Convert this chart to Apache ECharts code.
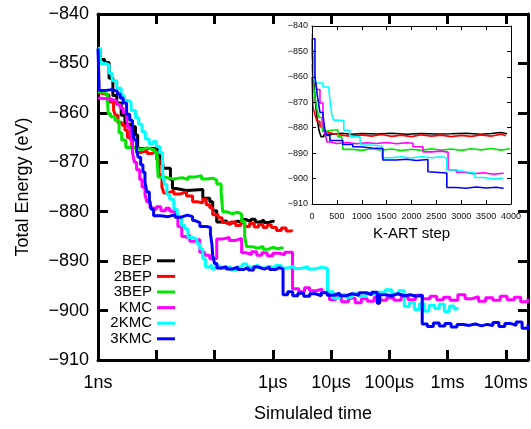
<!DOCTYPE html>
<html>
<head>
<meta charset="utf-8">
<script src="https://cdn.jsdelivr.net/npm/echarts@6/dist/echarts.min.js"></script>
<style>
  html, body { margin: 0; padding: 0; background: #fff; }
  #chart { width: 531px; height: 429px; }
</style>
</head>
<body>
<div id="chart"></div>
<script>
// Series names and colours
const seriesNames = ['BEP', '2BEP', '3BEP', 'KMC', '2KMC', '3KMC'];
const seriesColors = ['#000000', '#ff0000', '#00e600', '#ff00ff', '#00ffff', '#0000ff'];

// Tick labels of the logarithmic time axis (seconds)
const timeTicks = [1e-9, 1e-6, 1e-5, 1e-4, 1e-3, 1e-2];
const timeTickText = ['1ns', '1\u00b5s', '10\u00b5s', '100\u00b5s', '1ms', '10ms'];

// Main plot: total energy (eV) against simulated time (s)
const bepTime = [
  [1e-9,-847.5],[1.1e-9,-849.2],[1.3e-9,-849.8],[1.55e-9,-853],[1.8e-9,-856.5],[2.1e-9,-858],
  [2.5e-9,-860.5],[2.9e-9,-862.3],[3.6e-9,-862.8],[4.4e-9,-864.5],[4.8e-9,-867.2],[1.05e-8,-868.6],
  [1.15e-8,-870.3],[1.3e-8,-871.2],[1.75e-8,-873.5],[1.9e-8,-875.3],[2.2e-8,-875.7],[3.3e-8,-875.5],
  [6.3e-8,-877.3],[8.3e-8,-878],[9.3e-8,-879.8],[1.09e-7,-882.1],[1.3e-7,-881.8],[1.6e-7,-882.3],
  [2.0e-7,-881.9],[2.5e-7,-882.2],[2.9e-7,-881.6],[3.5e-7,-882.0],[4.2e-7,-881.5],[5.0e-7,-882.1],
  [6.0e-7,-881.7],[7.0e-7,-882.2],[8.3e-7,-881.9],[1.0e-6,-882.0],[1.07e-6,-882.0]
];
const bep2Time = [
  [1e-9,-856],[1.12e-9,-856.4],[1.55e-9,-857.8],[1.85e-9,-859.5],[2.0e-9,-860.5],[2.2e-9,-862],
  [2.6e-9,-862.5],[2.9e-9,-863.5],[3.2e-9,-865],[3.8e-9,-867],[4.6e-9,-868],[5.5e-9,-867.7],
  [7e-9,-868.2],[8.5e-9,-867.8],[1.02e-8,-869.5],[1.12e-8,-872.5],[1.25e-8,-875],[1.35e-8,-876.2],
  [1.6e-8,-875.8],[2.0e-8,-876.4],[2.6e-8,-876],[3.3e-8,-876.8],[4.2e-8,-878],[5.0e-8,-878.2],
  [6.3e-8,-877.5],[7.2e-8,-878.6],[8.3e-8,-879.2],[9.3e-8,-880.6],[1.15e-7,-881.2],[1.35e-7,-882.2],
  [1.6e-7,-882.6],[1.9e-7,-882.1],[2.3e-7,-882.8],[2.8e-7,-882.3],[3.3e-7,-883.0],[4.0e-7,-882.4],
  [4.8e-7,-883.1],[5.7e-7,-882.6],[6.8e-7,-883.2],[8.0e-7,-882.7],[9.5e-7,-883.2],[1.16e-6,-883.8],
  [1.4e-6,-883.3],[1.7e-6,-883.9],[2.1e-6,-883.6]
];
const bep3Time = [
  [1e-9,-855.8],[1.2e-9,-856.2],[1.45e-9,-857.5],[1.5e-9,-860.2],[1.65e-9,-860.8],[1.95e-9,-861.5],
  [2.3e-9,-864],[2.55e-9,-865.5],[3.0e-9,-867],[4.0e-9,-867.4],[5.5e-9,-867.1],[7.0e-9,-867.5],
  [9.5e-9,-868],[1.04e-8,-870],[1.08e-8,-873],[1.4e-8,-873.4],[2.0e-8,-873.1],[2.8e-8,-873.5],
  [3.5e-8,-873.0],[4.5e-8,-872.7],[6e-8,-873.4],[7.5e-8,-873.2],[9.3e-8,-873.6],[1.09e-7,-874.4],
  [1.3e-7,-876],[1.38e-7,-880],[1.6e-7,-880.4],[2.0e-7,-880.1],[2.5e-7,-880.5],[2.92e-7,-882],
  [3.29e-7,-885],[3.56e-7,-887.1],[4.5e-7,-887.4],[5.5e-7,-887.0],[6.8e-7,-887.6],[8.3e-7,-887.2],
  [1.0e-6,-887.5],[1.2e-6,-887.3],[1.47e-6,-887.5]
];
const kmcTime = [
  [1e-9,-857],[1.08e-9,-857.2],[1.6e-9,-857.6],[2.1e-9,-858.3],[2.4e-9,-859],[2.7e-9,-860],
  [3.1e-9,-861.5],[3.3e-9,-863],[3.6e-9,-865.5],[3.9e-9,-868],[4.2e-9,-870],[4.6e-9,-871.5],
  [5.2e-9,-873.5],[5.7e-9,-875],[6.4e-9,-876.5],[6.9e-9,-878],[7.8e-9,-879.2],[8.7e-9,-879.6],
  [1.0e-8,-879.0],[1.2e-8,-879.8],[1.45e-8,-879.3],[1.7e-8,-879.9],[2.1e-8,-880.5],[2.35e-8,-883],
  [2.74e-8,-885],[3.1e-8,-885.3],[3.47e-8,-884.8],[3.76e-8,-886],[4.5e-8,-885.6],[5.58e-8,-888.2],
  [6.8e-8,-888.8],[8.3e-8,-889.5],[1.09e-7,-885.5],[1.4e-7,-885.2],[1.8e-7,-885.8],[2.3e-7,-885.4],
  [2.92e-7,-888.3],[3.5e-7,-888.7],[4.3e-7,-888.1],[5.3e-7,-888.8],[6.5e-7,-888.3],[8e-7,-888.9],
  [1.0e-6,-888.4],[1.3e-6,-888.7],[1.6e-6,-888.2],[2.18e-6,-895.6],[2.8e-6,-896.2],[3.5e-6,-895.4],
  [4.3e-6,-896],[5.5e-6,-895.7],[7e-6,-896.3],[9.4e-6,-897.8],[1.2e-5,-897.2],[1.5e-5,-898.2],
  [2.0e-5,-897.5],[2.6e-5,-898.4],[3.3e-5,-897.6],[4.2e-5,-898.1],[5.5e-5,-897.3],[7e-5,-897.9],
  [9e-5,-897.4],[1.2e-4,-897.9],[1.6e-4,-897.2],[2.1e-4,-897.8],[2.8e-4,-896.9],[3.7e-4,-897.6],
  [5e-4,-897.1],[6.5e-4,-897.8],[8.5e-4,-897.3],[1.1e-3,-897.9],[1.5e-3,-896.8],[2e-3,-897.6],
  [2.6e-3,-897.2],[3.4e-3,-898.1],[4.5e-3,-897.4],[6e-3,-897.9],[8e-3,-897.1],[1.05e-2,-897.8],
  [1.4e-2,-897.3],[1.8e-2,-898.2],[2.4e-2,-897.6]
];
const kmc2Time = [
  [1e-9,-847],[1.1e-9,-850],[1.35e-9,-850.3],[1.55e-9,-852],[1.75e-9,-853.5],[2.1e-9,-855],
  [2.5e-9,-856.5],[2.8e-9,-857.5],[3.3e-9,-857.8],[3.7e-9,-859.5],[4.4e-9,-861],[5.0e-9,-862.3],
  [5.7e-9,-863.8],[6.5e-9,-865.3],[7.6e-9,-866.3],[8.8e-9,-865.8],[1.0e-8,-866.8],[1.15e-8,-868],
  [1.28e-8,-870],[1.3e-8,-873],[1.4e-8,-874.5],[1.52e-8,-876.5],[1.7e-8,-877.5],[2.0e-8,-879.5],
  [2.3e-8,-881],[2.7e-8,-882.8],[3.1e-8,-883.5],[3.5e-8,-885.2],[4.2e-8,-885.6],[5.0e-8,-886.5],
  [5.6e-8,-887.5],[6.3e-8,-889.5],[7.0e-8,-891.2],[8.0e-8,-890.8],[9.0e-8,-891.6],[1.05e-7,-891.0],
  [1.25e-7,-891.5],[1.5e-7,-891.1],[1.9e-7,-891.8],[2.4e-7,-891.2],[3.0e-7,-890.6],[3.6e-7,-891.2],
  [4.5e-7,-890.8],[5.6e-7,-891.4],[7.0e-7,-891.0],[8.8e-7,-891.4],[1.1e-6,-890.9],[1.4e-6,-891.4],
  [1.8e-6,-891.0],[2.3e-6,-891.5],[3.0e-6,-891.1],[4.0e-6,-891.6],[5.3e-6,-891.2],[7.0e-6,-891.5],
  [8.7e-6,-896.2],[1.1e-5,-897.5],[1.4e-5,-896.8],[1.8e-5,-897.3],[2.3e-5,-896.6],[3e-5,-897.1],
  [4e-5,-896.5],[5e-5,-896.9],[6.5e-5,-896.3],[8.5e-5,-895.8],[1.1e-4,-896.6],[1.45e-4,-896.0],
  [1.81e-4,-899.2],[2.2e-4,-898.4],[2.7e-4,-899.8],[3.3e-4,-898.6],[4.0e-4,-900.1],[4.8e-4,-898.9],
  [6e-4,-899.6],[7.2e-4,-898.7],[8.8e-4,-900.2],[1.07e-3,-899.1],[1.3e-3,-899.7],[1.46e-3,-899.3]
];
const kmc3Time = [
  [1e-9,-847],[1.05e-9,-855.5],[1.3e-9,-855.3],[1.7e-9,-855.6],[2.15e-9,-856.2],[2.4e-9,-857],
  [2.7e-9,-858],[3.1e-9,-860.3],[3.5e-9,-861.5],[3.9e-9,-863.5],[4.2e-9,-865.5],[4.6e-9,-867.5],
  [4.9e-9,-869],[5.4e-9,-870.5],[5.9e-9,-872],[6.4e-9,-874],[6.9e-9,-876],[7.6e-9,-877.5],
  [8.2e-9,-879.5],[9.0e-9,-880.8],[1.2e-8,-881.0],[1.6e-8,-880.6],[2.1e-8,-881.1],[2.7e-8,-880.7],
  [3.4e-8,-881.0],[4.2e-8,-881.8],[4.6e-8,-882.2],[5.6e-8,-883.0],[7.3e-8,-883.2],[8.5e-8,-884.5],
  [9.0e-8,-886.5],[9.3e-8,-888.8],[1.0e-7,-890.5],[1.1e-7,-891.4],[1.3e-7,-891.1],[1.6e-7,-891.6],
  [2.0e-7,-891.2],[2.5e-7,-891.7],[3.1e-7,-891.3],[3.8e-7,-891.8],[4.7e-7,-891.2],[5.8e-7,-891.6],
  [7.1e-7,-891.2],[8.8e-7,-891.7],[1.1e-6,-891.3],[1.3e-6,-891.6],[1.5e-6,-896.8],[1.8e-6,-896.2],
  [2.2e-6,-897.0],[2.7e-6,-896.5],[3.4e-6,-897.1],[4.3e-6,-896.6],[5.4e-6,-897.0],[6.8e-6,-896.4],
  [8.6e-6,-896.9],[1.1e-5,-896.5],[1.4e-5,-897.0],[1.8e-5,-896.6],[2.3e-5,-896.9],[3e-5,-896.4],
  [4e-5,-896.8],[5e-5,-896.3],[6.2e-5,-898.5],[6.8e-5,-896.8],[8.5e-5,-897.0],[1.1e-4,-896.6],
  [1.4e-4,-897.0],[1.8e-4,-896.8],[2.3e-4,-897.1],[2.9e-4,-896.9],[3.67e-4,-902.7],[4.5e-4,-903.2],
  [5.7e-4,-902.5],[7.2e-4,-903.1],[9e-4,-902.6],[1.15e-3,-903.3],[1.45e-3,-902.8],[1.85e-3,-903.0],
  [2.35e-3,-902.7],[3.0e-3,-903.1],[3.8e-3,-902.8],[4.8e-3,-903.0],[6e-3,-902.4],[7.6e-3,-903.2],
  [9.6e-3,-902.6],[1.2e-2,-903.0],[1.5e-2,-902.3],[1.9e-2,-903.6],[2.4e-2,-902.8]
];

// Inset: total energy (eV) against K-ART step
const bepStep = [
  [0,-845],[20,-858],[60,-868],[100,-876],[140,-881],[180,-883.5],[240,-882.6],[400,-882.2],
  [600,-882.6],[800,-882.3],[1000,-882.5],[1300,-882.2],[1600,-882.6],[1900,-882.3],[2200,-882.5],
  [2500,-882.4],[2800,-882.2],[3100,-882.6],[3400,-882.3],[3600,-881.9],[3800,-882.4],[3920,-882.4]
];
const bep2Step = [
  [0,-860],[20,-872],[60,-875],[100,-877.5],[160,-879.6],[240,-881.6],[300,-882.3],[420,-882.9],
  [600,-883.4],[800,-882.8],[1000,-883.3],[1200,-882.7],[1400,-883.4],[1600,-882.9],[1800,-883.5],
  [2000,-882.8],[2200,-883.3],[2400,-882.9],[2600,-883.5],[2800,-883.0],[3000,-883.4],[3200,-882.8],
  [3400,-883.3],[3600,-882.6],[3800,-883.2],[3900,-883.2]
];
const bep3Step = [
  [0,-855],[20,-862],[60,-868],[100,-872.7],[140,-876],[200,-880],[220,-881.6],[260,-881],
  [400,-880.8],[520,-883.6],[600,-884],[620,-888.5],[800,-888.9],[1000,-888.3],[1200,-888.8],
  [1400,-888.4],[1600,-889],[1800,-888.5],[2000,-888.9],[2200,-888.3],[2400,-888.8],[2600,-888.4],
  [2800,-888.9],[3000,-888.3],[3200,-888.7],[3400,-888.2],[3600,-888.8],[3800,-888.3],[3980,-888.3]
];
const kmcStep = [
  [0,-847],[20,-857],[60,-861],[100,-865],[160,-870.3],[220,-879],[260,-882],[300,-885.6],
  [360,-886.2],[500,-885.8],[700,-886.3],[900,-885.9],[1100,-886.2],[1300,-885.8],[1500,-886.3],
  [1700,-885.9],[1900,-886.1],[2030,-887.5],[2230,-889.5],[2400,-889.2],[2600,-889.6],[2735,-896.6],
  [2900,-897.5],[3050,-898.1],[3250,-897.7],[3450,-898.3],[3650,-897.9],[3840,-898.2]
];
const kmc2Step = [
  [0,-843],[20,-857],[40,-861],[80,-862.4],[220,-864],[340,-865],[360,-869],[400,-875],
  [440,-877],[500,-877.2],[640,-881],[760,-883.6],[965,-886],[1005,-886.8],[1200,-887.2],
  [1405,-891.8],[1600,-891.4],[1800,-891.9],[2000,-891.3],[2200,-891.8],[2400,-891.4],[2600,-891.9],
  [2710,-896.6],[2900,-897.3],[3100,-897.8],[3275,-899.6],[3450,-900.2],[3650,-899.8],[3840,-900]
];
const kmc3Step = [
  [0,-845],[60,-860],[100,-866.3],[120,-869],[160,-874],[220,-875],[260,-881],[300,-883],
  [360,-885],[620,-886.6],[820,-887.5],[965,-888],[1200,-888.2],[1425,-892.7],[1700,-892.4],
  [1900,-892.9],[2100,-892.5],[2330,-897.3],[2370,-897.8],[2710,-903.5],[2900,-903.8],[3100,-903.3],
  [3300,-903.7],[3500,-903.4],[3700,-903.8],[3840,-903.5]
];

const mainData = [bepTime, bep2Time, bep3Time, kmcTime, kmc2Time, kmc3Time];
const insetData = [bepStep, bep2Step, bep3Step, kmcStep, kmc2Step, kmc3Step];

const FONT = '"Liberation Sans", Arial, Helvetica, sans-serif';
const minusSign = v => String(v).replace('-', '\u2212');
const plainNumber = v => String(v);

function timeLabel(v) {
  const e = Math.log10(v);
  for (let i = 0; i < timeTicks.length; i++) {
    if (Math.abs(e - Math.log10(timeTicks[i])) < 1e-6) return timeTickText[i];
  }
  return '';
}

function frameAxis(extra, width, tickLen) {
  return Object.assign({
    axisLine: { show: true, onZero: false, lineStyle: { color: '#000', width: width } },
    axisTick: { show: true, inside: true, length: tickLen, lineStyle: { color: '#000', width: width } },
    splitLine: { show: false },
    minorTick: { show: false }
  }, extra);
}

const chart = echarts.init(document.getElementById('chart'), null, { renderer: 'canvas' });

const series = [];
seriesNames.forEach((name, i) => {
  series.push({
    name: name, type: 'line', xAxisIndex: 0, yAxisIndex: 0,
    data: mainData[i], step: 'end', showSymbol: false, symbol: 'none',
    lineStyle: { color: seriesColors[i], width: 3 },
    itemStyle: { color: seriesColors[i] },
    z: 2
  });
});
seriesNames.forEach((name, i) => {
  series.push({
    name: name, type: 'line', xAxisIndex: 2, yAxisIndex: 2,
    data: insetData[i], step: 'end', showSymbol: false, symbol: 'none',
    lineStyle: { color: seriesColors[i], width: 1.6 },
    itemStyle: { color: seriesColors[i] },
    z: 6
  });
});

chart.setOption({
  animation: false,
  backgroundColor: '#fff',
  textStyle: { fontFamily: FONT },
  grid: [
    { left: 98, top: 14, width: 431, height: 346, containLabel: false },
    { left: 312, top: 26, width: 199, height: 178, show: true, backgroundColor: '#fff', borderWidth: 0, z: 4 }
  ],
  legend: {
    data: seriesNames, orient: 'vertical', right: 356, top: 253, align: 'right',
    icon: 'rect', itemWidth: 18, itemHeight: 3, itemGap: 0, padding: 0,
    selectedMode: false,
    textStyle: { fontFamily: FONT, fontSize: 15, color: '#000', lineHeight: 15.6 }
  },
  xAxis: [
    frameAxis({
      type: 'log', logBase: 10, min: 1e-9, max: 0.024, gridIndex: 0, position: 'bottom',
      axisLabel: { formatter: timeLabel, fontSize: 18, color: '#000', margin: 14, fontFamily: FONT },
      name: 'Simulaled time', nameLocation: 'middle', nameGap: 45,
      nameTextStyle: { fontSize: 18, color: '#000', fontFamily: FONT }
    }, 3, 10),
    frameAxis({
      type: 'log', logBase: 10, min: 1e-9, max: 0.024, gridIndex: 0, position: 'top',
      axisLabel: { show: false }
    }, 3, 10),
    frameAxis({
      type: 'value', min: 0, max: 4000, interval: 500, gridIndex: 1, position: 'bottom', z: 7,
      axisLabel: { formatter: plainNumber, fontSize: 9, color: '#111', margin: 8, fontFamily: FONT },
      name: 'K-ART step', nameLocation: 'middle', nameGap: 22,
      nameTextStyle: { fontSize: 15, color: '#000', fontFamily: FONT }
    }, 1, 4),
    frameAxis({
      type: 'value', min: 0, max: 4000, interval: 500, gridIndex: 1, position: 'top', z: 7,
      axisLabel: { show: false }
    }, 1, 4)
  ],
  yAxis: [
    frameAxis({
      type: 'value', min: -910, max: -840, interval: 10, gridIndex: 0, position: 'left',
      axisLabel: { formatter: minusSign, fontSize: 18, color: '#000', margin: 9, fontFamily: FONT },
      name: 'Total Energy (eV)', nameLocation: 'middle', nameGap: 66,
      nameTextStyle: { fontSize: 18, color: '#000', fontFamily: FONT }
    }, 3, 10),
    frameAxis({
      type: 'value', min: -910, max: -840, interval: 10, gridIndex: 0, position: 'right',
      axisLabel: { show: false }
    }, 3, 10),
    frameAxis({
      type: 'value', min: -910, max: -840, interval: 10, gridIndex: 1, position: 'left', z: 7,
      axisLabel: { formatter: minusSign, fontSize: 9, color: '#111', margin: 4, fontFamily: FONT }
    }, 1, 4),
    frameAxis({
      type: 'value', min: -910, max: -840, interval: 10, gridIndex: 1, position: 'right', z: 7,
      axisLabel: { show: false }
    }, 1, 4)
  ],
  series: series
});
</script>
</body>
</html>
